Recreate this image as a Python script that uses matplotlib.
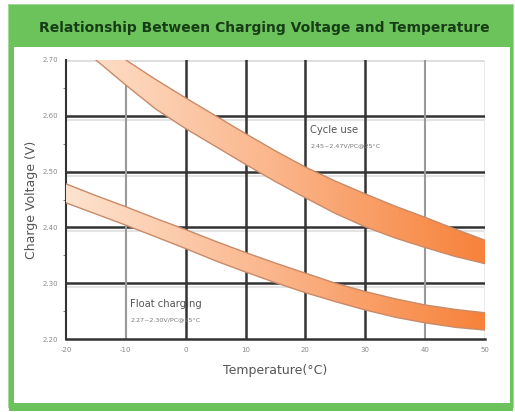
import matplotlib.pyplot as plt
import numpy as np
from matplotlib.patches import Rectangle

# data (every 5 degrees C)
temps = [-20, -15, -10, -5, 0, 5, 10, 15, 20, 25, 30, 35, 40, 45, 50]
cycle_hi = [2.775, 2.737, 2.700, 2.665, 2.632, 2.600, 2.568, 2.537, 2.508,
            2.483, 2.460, 2.438, 2.418, 2.397, 2.377]
cycle_lo = [2.740, 2.700, 2.655, 2.612, 2.577, 2.545, 2.513, 2.482, 2.453,
            2.425, 2.401, 2.381, 2.364, 2.348, 2.335]
float_hi = [2.478, 2.457, 2.437, 2.416, 2.396, 2.375, 2.355, 2.336, 2.318,
            2.300, 2.285, 2.272, 2.261, 2.253, 2.247]
float_lo = [2.444, 2.424, 2.404, 2.383, 2.362, 2.340, 2.320, 2.301, 2.283,
            2.267, 2.252, 2.239, 2.229, 2.221, 2.216]

x_ticks = [-20, -10, 0, 10, 20, 30, 40, 50]
y_ticks = [2.20, 2.30, 2.40, 2.50, 2.60, 2.70]
title = 'Relationship Between Charging Voltage and Temperature'

fig = plt.figure(figsize=(5.15, 4.12), dpi=100)
green = '#6cc35c'

def frame_rect(x, y, w, h, **kw):
    # rectangle in pixel coords from the top-left corner
    r = Rectangle((x / 515, 1 - (y + h) / 412), w / 515, h / 412,
                  transform=fig.transFigure, zorder=-1, **kw)
    fig.patches.append(r)

frame_rect(9, 5, 504, 402, facecolor='white', edgecolor='#a5d89c', linewidth=1.5)
frame_rect(9, 5, 504, 42, facecolor=green, edgecolor='none')
frame_rect(9, 5, 5, 402, facecolor=green, edgecolor='none')
frame_rect(510, 5, 3, 402, facecolor=green, edgecolor='none')
frame_rect(9, 403, 504, 8, facecolor=green, edgecolor='none')

fig.text(0.513, 1 - 28/412, title, ha='center', va='center', fontsize=10,
         fontweight='bold', color='#173d17')

ax = fig.add_axes([66/515, 1 - 339/412, 419/515, 279/412])
ax.set_facecolor('none')

# grid
for y in [2.30, 2.40, 2.50, 2.60]:
    ax.axhline(y - 0.007, color='#e4e4e4', lw=1.5, zorder=1)
    ax.axhline(y, color='#333333', lw=1.8, zorder=2)
ax.axhline(2.70, color='#dddddd', lw=2, zorder=1)
for x in [0, 10, 20, 30]:
    ax.axvline(x, color='#333333', lw=1.8, zorder=2)
for x in [-10, 40]:
    ax.axvline(x, color='#999999', lw=1.5, zorder=2)
ax.axvline(50, color='#e6e6e6', lw=1.2, zorder=1)

# bands with left-to-right gradient
t = np.array(temps)
grad = np.linspace(0, 1, 256).reshape(1, -1)
cmap = plt.matplotlib.colors.LinearSegmentedColormap.from_list(
    'band', ['#fde3cf', '#fbb58a', '#f7823a'])
for hi, lo in [(cycle_hi, cycle_lo), (float_hi, float_lo)]:
    poly = ax.fill_between(t, lo, hi, color='none', zorder=3)
    im = ax.imshow(grad, cmap=cmap, aspect='auto', extent=(-20, 50, 2.15, 2.80),
                   zorder=3, interpolation='bilinear')
    im.set_clip_path(poly.get_paths()[0], transform=ax.transData)
    ax.plot(t, hi, color='#c98a68', lw=1.0, zorder=4)
    ax.plot(t, lo, color='#c98a68', lw=1.0, zorder=4)

ax.set_xlim(-20, 50)
ax.set_ylim(2.20, 2.70)

ax.text(20.8, 2.575, 'Cycle use', fontsize=7.2, color='#555555', va='center', zorder=5)
ax.text(20.8, 2.547, '2.45~2.47V/PC@25°C', fontsize=4.6, color='#777777', va='center', zorder=5)
ax.text(-9.3, 2.262, 'Float charging', fontsize=7.2, color='#555555', va='center', zorder=5)
ax.text(-9.3, 2.234, '2.27~2.30V/PC@25°C', fontsize=4.6, color='#777777', va='center', zorder=5)

for s in ['top', 'right']:
    ax.spines[s].set_visible(False)
ax.spines['left'].set_color('#333333')
ax.spines['left'].set_linewidth(1.5)
ax.spines['bottom'].set_color('#333333')
ax.spines['bottom'].set_linewidth(1.8)

ax.set_xticks(x_ticks)
ax.set_xticklabels([str(v) for v in x_ticks])
ax.set_yticks(y_ticks)
ax.set_yticklabels(['%.2f' % v for v in y_ticks])
ax.set_yticks([2.25, 2.35, 2.45, 2.55, 2.65], minor=True)
ax.tick_params(axis='both', labelsize=5, colors='#888888', length=0, pad=6)
ax.tick_params(axis='y', which='minor', length=2, color='#666666', direction='out')
ax.set_xlabel('Temperature(°C)', fontsize=9, color='#555555', labelpad=8)
ax.set_ylabel('Charge Voltage (V)', fontsize=9, color='#555555', labelpad=3)

fig.savefig('out.png', dpi=100)
